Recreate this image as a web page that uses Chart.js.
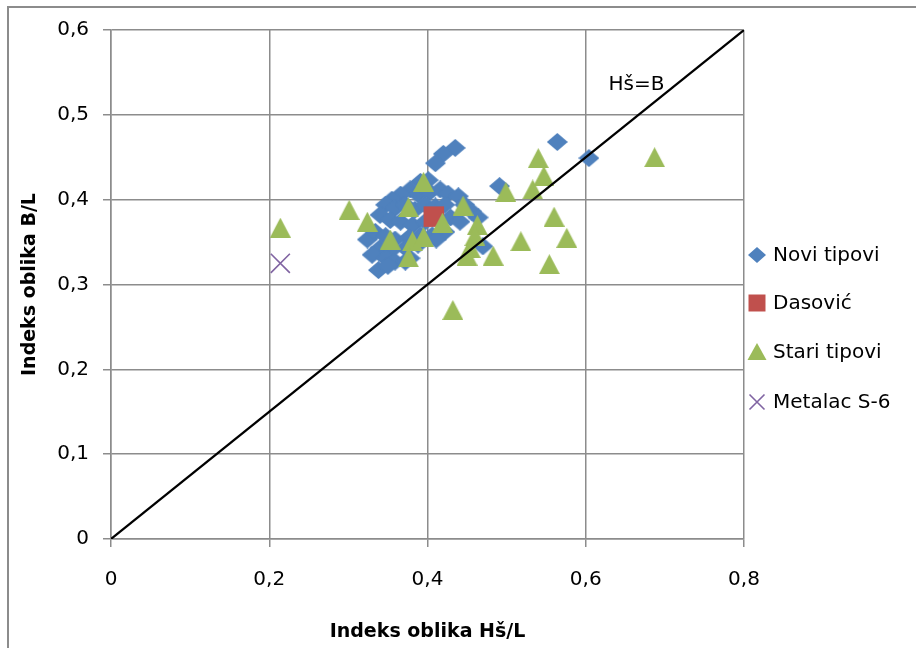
<!DOCTYPE html>
<html><head><meta charset="utf-8">
<script src="https://cdn.jsdelivr.net/npm/chart.js@4"></script>
<style>
html,body{margin:0;padding:0;background:#fff;overflow:hidden}
#wrap{position:relative;width:916px;height:648px;overflow:hidden}
#frame{position:absolute;left:7px;top:6px;width:1000px;height:1000px;border-left:2px solid #8c8c8c;border-top:2px solid #8c8c8c}
#c{position:absolute;left:0;top:0}
</style></head><body>
<div id="wrap"><div id="frame"></div><canvas id="c" width="916" height="648"></canvas></div>
<script>
// ---- data ----
const seriesNames = ['Novi tipovi', 'Dasović', 'Stari tipovi', 'Metalac S-6'];
const xTickLabels = ['0', '0,2', '0,4', '0,6', '0,8'];
const yTickLabels = ['0', '0,1', '0,2', '0,3', '0,4', '0,5', '0,6'];
const xTitle = 'Indeks oblika Hš/L';
const yTitle = 'Indeks oblika B/L';

const noviX = [0.435,0.420,0.410,0.564,0.604,0.491,0.470,
  0.391,0.401,0.378,0.388,0.403,0.416,0.426,0.439,0.366,0.355,
  0.347,0.359,0.372,0.384,0.397,0.410,0.422,0.447,0.456,0.464,0.340,0.353,0.366,0.381,0.397,0.416,0.429,0.441,
  0.324,0.334,0.347,0.359,0.376,0.391,0.406,0.422,0.340,0.355,0.372,0.388,0.411,
  0.330,0.347,0.359,0.372,0.338,0.350,0.378];
const noviY = [0.461,0.454,0.443,0.468,0.449,0.416,0.345,
  0.421,0.423,0.412,0.406,0.409,0.412,0.407,0.404,0.406,0.400,
  0.394,0.390,0.394,0.388,0.394,0.392,0.394,0.394,0.386,0.379,0.382,0.376,0.374,0.370,0.374,0.376,0.379,0.374,
  0.353,0.362,0.357,0.353,0.355,0.358,0.358,0.362,0.343,0.341,0.343,0.347,0.353,
  0.335,0.331,0.327,0.327,0.317,0.322,0.331];

const dasovicX = [0.408];
const dasovicY = [0.380];

const stariX = [0.214,0.301,0.324,0.395,0.376,0.353,0.381,0.395,0.376,0.419,0.445,0.463,0.460,0.454,0.450,0.483,
  0.499,0.533,0.540,0.547,0.560,0.576,0.518,0.554,0.687,0.432];
const stariY = [0.367,0.388,0.374,0.421,0.391,0.353,0.351,0.356,0.332,0.373,0.393,0.370,0.357,0.343,0.334,0.334,
  0.409,0.412,0.449,0.428,0.380,0.355,0.351,0.324,0.450,0.270];

const metalacX = [0.214];
const metalacY = [0.325];

const lineX = [0, 0.8];
const lineY = [0, 0.6];
const lineLabel = 'Hš=B';
const lineLabelPos = [0.664, 0.535];

// ---- build ----
const pts = (xs, ys) => xs.map((v, i) => ({x: v, y: ys[i]}));
const colors = ['#4F81BD', '#C0504D', '#9BBB59', '#8064A2'];
const FONT = '"DejaVu Sans", sans-serif';

function markerCanvas(kind, w, h, color) {
  const c = document.createElement('canvas');
  c.width = w; c.height = h;
  const g = c.getContext('2d');
  g.fillStyle = color;
  g.beginPath();
  if (kind === 'diamond') {
    g.moveTo(w / 2, 0); g.lineTo(w, h / 2); g.lineTo(w / 2, h); g.lineTo(0, h / 2);
  } else {
    g.moveTo(w / 2, 0); g.lineTo(w, h); g.lineTo(0, h);
  }
  g.closePath(); g.fill();
  return c;
}
const diamondImg = markerCanvas('diamond', 21, 18, colors[0]);
const triangleImg = markerCanvas('triangle', 21, 20, colors[2]);

const legendPlugin = {
  id: 'customLegend',
  afterDraw(chart) {
    const {ctx, scales: {x, y}} = chart;
    ctx.save();
    ctx.fillStyle = '#000';
    ctx.font = '20px ' + FONT;
    ctx.textAlign = 'center';
    ctx.textBaseline = 'middle';
    ctx.fillText(lineLabel, x.getPixelForValue(lineLabelPos[0]), y.getPixelForValue(lineLabelPos[1]));

    const rows = [255, 303, 352, 402];
    const mx = 757, tx = 773;
    ctx.textAlign = 'left';
    rows.forEach((ry, i) => {
      const c = colors[i];
      ctx.fillStyle = c; ctx.strokeStyle = c;
      ctx.beginPath();
      if (i === 0) {
        ctx.moveTo(mx, ry - 8); ctx.lineTo(mx + 9, ry); ctx.lineTo(mx, ry + 8); ctx.lineTo(mx - 9, ry); ctx.closePath(); ctx.fill();
      } else if (i === 1) {
        ctx.rect(mx - 8.5, ry - 8.5, 17, 17); ctx.fill();
      } else if (i === 2) {
        ctx.moveTo(mx, ry - 9); ctx.lineTo(mx + 9.5, ry + 8); ctx.lineTo(mx - 9.5, ry + 8); ctx.closePath(); ctx.fill();
      } else {
        const r = 7.5;
        ctx.lineWidth = 1.6;
        ctx.moveTo(mx - r, ry - r); ctx.lineTo(mx + r, ry + r);
        ctx.moveTo(mx + r, ry - r); ctx.lineTo(mx - r, ry + r);
        ctx.stroke();
      }
      ctx.fillStyle = '#000';
      ctx.fillText(seriesNames[i], tx, ry + 1);
    });
    ctx.restore();
  }
};

const gridColor = '#8c8c8c';
new Chart(document.getElementById('c'), {
  type: 'scatter',
  data: {
    datasets: [
      {label: 'line', data: pts(lineX, lineY), showLine: true, borderColor: '#000', borderWidth: 2.2,
       pointRadius: 0, order: 0},
      {label: seriesNames[3], data: pts(metalacX, metalacY), pointStyle: 'crossRot', pointRadius: 13.5,
       borderColor: colors[3], backgroundColor: colors[3], borderWidth: 1.6, order: 1},
      {label: seriesNames[2], data: pts(stariX, stariY), pointStyle: triangleImg, pointRadius: 11,
       backgroundColor: colors[2], borderColor: colors[2], borderWidth: 0, order: 2},
      {label: seriesNames[1], data: pts(dasovicX, dasovicY), pointStyle: 'rect', pointRadius: 14.5,
       backgroundColor: colors[1], borderColor: colors[1], borderWidth: 0, order: 3},
      {label: seriesNames[0], data: pts(noviX, noviY), pointStyle: diamondImg, pointRadius: 10,
       backgroundColor: colors[0], borderColor: colors[0], borderWidth: 0, order: 4}
    ]
  },
  options: {
    responsive: false,
    animation: false,
    events: [],
    layout: {padding: {top: 30, right: 172, left: 0, bottom: 0}},
    plugins: {legend: {display: false}, tooltip: {enabled: false}},
    scales: {
      x: {
        type: 'linear', min: 0, max: 0.8,
        afterFit: s => { s.height = 109; },
        ticks: {stepSize: 0.2, padding: 21, color: '#000', font: {family: FONT, size: 20},
                callback: (v, i) => xTickLabels[i]},
        grid: {color: gridColor, lineWidth: 1.5, tickLength: 8, tickColor: gridColor},
        border: {color: gridColor, width: 1.5},
        title: {display: true, text: xTitle, color: '#000', font: {family: FONT, size: 19, weight: 'bold'},
                padding: {top: 0, bottom: 5}}
      },
      y: {
        type: 'linear', min: 0, max: 0.6,
        afterFit: s => { s.width = 111; },
        ticks: {stepSize: 0.1, padding: 14, color: '#000', font: {family: FONT, size: 20},
                callback: (v, i) => yTickLabels[i]},
        grid: {color: gridColor, lineWidth: 1.5, tickLength: 8, tickColor: gridColor},
        border: {color: gridColor, width: 1.5},
        title: {display: true, text: yTitle, color: '#000', font: {family: FONT, size: 19, weight: 'bold'},
                padding: {top: 19, bottom: 0}}
      }
    }
  },
  plugins: [legendPlugin]
});
</script>
</body></html>
